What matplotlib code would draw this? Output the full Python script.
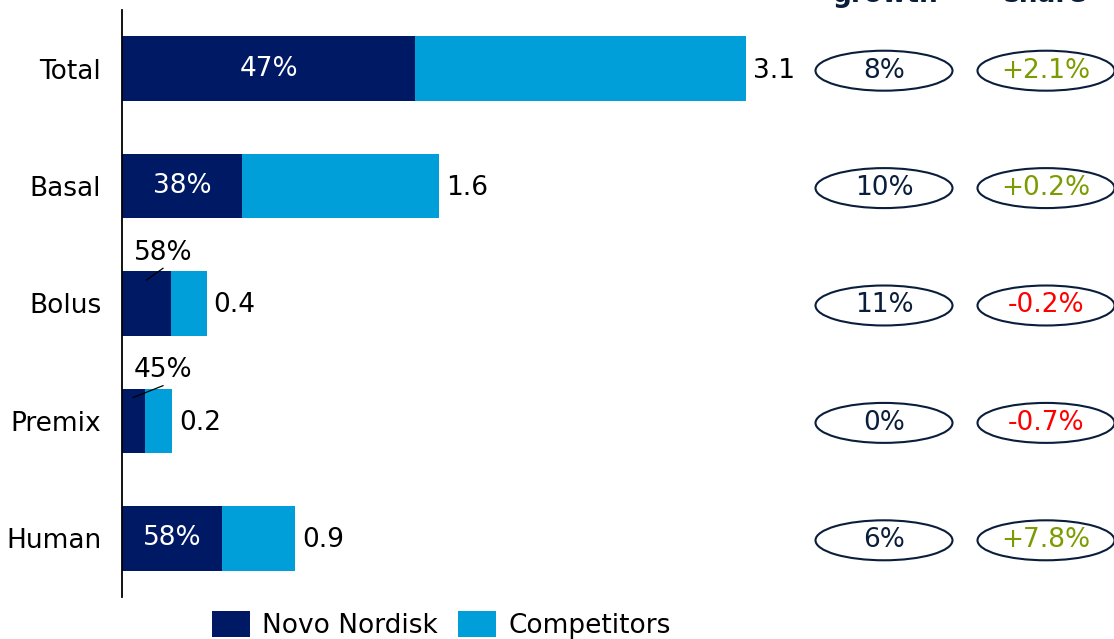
import matplotlib.pyplot as plt
from matplotlib.patches import Ellipse

# Market data, billions (bar lengths)
categories = ["Total", "Basal", "Bolus", "Premix", "Human"]
market_size = [3.1, 1.575, 0.42, 0.25, 0.86]
size_labels = ["3.1", "1.6", "0.4", "0.2", "0.9"]
novo_share = [47, 38, 58, 45, 58]
share_labels = ["47%", "38%", "58%", "45%", "58%"]
growth_labels = ["8%", "10%", "11%", "0%", "6%"]
share_change = [2.1, 0.2, -0.2, -0.7, 7.8]

NAVY = "#001965"
BLUE = "#009fda"
DARK = "#0a1e3c"
GREEN = "#7a9c00"
RED = "#ff0000"
FS = 19

plt.rcParams['font.family'] = ['DejaVu Sans']

fig = plt.figure(figsize=(11.14, 6.39), dpi=100)
ax = fig.add_axes([122 / 1114, 1 - 597 / 639, 1 - 122 / 1114, 587 / 639])

y = list(range(len(categories)))
novo = [m * s / 100 for m, s in zip(market_size, novo_share)]
comp = [m - n for m, n in zip(market_size, novo)]

ax.barh(y, novo, height=0.55, color=NAVY, label="Novo Nordisk")
ax.barh(y, comp, left=novo, height=0.55, color=BLUE, label="Competitors")

ax.set_xlim(0, (1114 - 122) / 201.3)
ax.set_ylim(len(categories) - 0.5, -0.5)
ax.set_yticks(y)
ax.set_yticklabels(categories, fontsize=FS)
ax.tick_params(axis='y', length=0, pad=15)
ax.set_xticks([])
for s in ["top", "right", "bottom"]:
    ax.spines[s].set_visible(False)
ax.spines["left"].set_linewidth(1.3)

px = 1 / 201.3       # data units per pixel along x
py = 1 / 117.5       # data units per pixel along y

for i in y:
    ax.text(market_size[i] + 7 * px, i + 2 * py, size_labels[i], va='center', ha='left',
            fontsize=FS, color='black')
    if novo[i] > 0.3:
        ax.text(novo[i] / 2, i, share_labels[i], va='center', ha='center',
                fontsize=FS, color='white')
    else:
        # small segment: label above with a leader line
        ax.text(41 * px, i - 0.43, share_labels[i], va='center', ha='center',
                fontsize=FS, color='black')
        ax.plot([novo[i] * 0.5, 41 * px], [i - 0.2, i - 0.3], color='black', lw=0.9)

    # growth / share ellipses
    cx1 = (884 - 122) * px
    cx2 = (1046 - 122) * px
    for cx in (cx1, cx2):
        ax.add_patch(Ellipse((cx, i + 2 * py), 137 * px, 40 * py, facecolor='white',
                             edgecolor=DARK, lw=1.5, clip_on=False))
    ax.text(cx1, i + 2 * py, growth_labels[i], ha='center', va='center', fontsize=FS, color=DARK)
    c = share_change[i]
    ax.text(cx2, i + 2 * py, f"{c:+.1f}%", ha='center', va='center', fontsize=FS,
            color=GREEN if c > 0 else RED)

fig.text(886 / 1114, 1 - 2 / 639, "growth", ha='center', va='baseline',
         fontsize=FS, fontweight='bold', color=DARK)
fig.text(1045 / 1114, 1 - 2 / 639, "share", ha='center', va='baseline',
         fontsize=FS, fontweight='bold', color=DARK)

fig.legend(loc='center left', bbox_to_anchor=(212 / 1114, 1 - 625 / 639), ncol=2,
           frameon=False, fontsize=FS, handlelength=1.43, handleheight=1.1,
           handletextpad=0.45, columnspacing=0.8, borderpad=0, borderaxespad=0)

fig.savefig("out.png", dpi=100)
